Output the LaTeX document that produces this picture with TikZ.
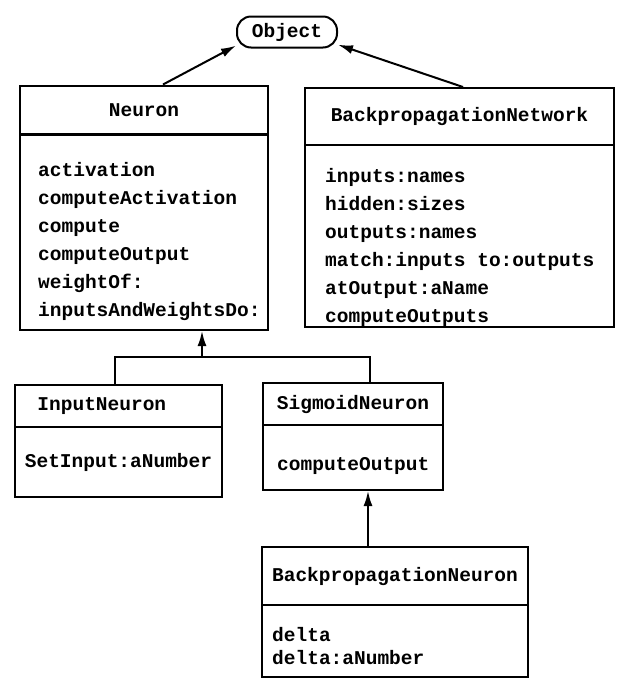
\documentclass[tikz,border=0pt]{standalone}
\usepackage{fontspec}
\usetikzlibrary{shapes,arrows.meta}
\newfontfamily\umlfont{Liberation Mono}
\newcommand\umltext{\umlfont\bfseries\fontsize{19.5}{28}\selectfont}
\newcommand\umltight{\umlfont\bfseries\fontsize{19.5}{23}\selectfont}

\tikzset{
    classhead/.style={rectangle, draw, line width=2pt, inner sep=0pt, font=\umltext},
    classbody/.style={rectangle, draw, line width=2pt, inner sep=0pt, font=\umltext},
    members/.style={anchor=north west, inner sep=0pt, align=left, font=\umltext},
    inherit/.style={-{Latex[length=15pt,width=9pt]}, line width=2pt},
}

\begin{document}
\begin{tikzpicture}[x=1pt, y=-1pt]
    \useasboundingbox (0,0) rectangle (618,681);

    \node (object) [rectangle, draw, rounded corners=14pt, line width=2pt, font=\umltext,
        minimum width=100, minimum height=31, inner sep=0pt] at (287,32) {Object};

    % Neuron
    \node (neuronhead) [classhead, minimum width=248, minimum height=49] at (144,110) {Neuron};
    \node (neuronbody) [classbody, minimum width=248, minimum height=196] at (144,232) {};
    \node (neuronlist) [members] at (38,162) {activation\\computeActivation\\compute\\computeOutput\\weightOf:\\inputsAndWeightsDo:};

    % BackpropagationNetwork
    \node (nethead) [classhead, minimum width=309, minimum height=57] at (459.5,116.5) {BackpropagationNetwork};
    \node (netbody) [classbody, minimum width=309, minimum height=182] at (459.5,236) {};
    \node (netlist) [members] at (325,168) {inputs:names\\hidden:sizes\\outputs:names\\match:inputs to:outputs\\atOutput:aName\\computeOutputs};

    % InputNeuron
    \node (inputhead) [classhead, minimum width=207, minimum height=42, text width=162, align=left] at (118.5,406) {InputNeuron};
    \node (inputbody) [classbody, minimum width=207, minimum height=70] at (118.5,462) {SetInput:aNumber};

    % SigmoidNeuron
    \node (sigmoidhead) [classhead, minimum width=180, minimum height=42] at (353,404) {SigmoidNeuron};
    \node (sigmoidbody) [classbody, minimum width=180, minimum height=65] at (353,457.5) {};
    \node (sigmoidlist) [members] at (277,457) {computeOutput};

    % BackpropagationNeuron
    \node (bpneuronhead) [classhead, minimum width=266, minimum height=58] at (395,576) {BackpropagationNeuron};
    \node (bpneuronbody) [classbody, minimum width=266, minimum height=72] at (395,641) {};
    \node (bpneuronlist) [members, font=\umltight] at (272,627) {delta\\delta:aNumber};

    % inheritance
    \draw [inherit] ([xshift=19]neuronhead.north) -- (object.-165);
    \draw [inherit] ([xshift=3.5]nethead.north) -- (object.-14);

    \coordinate (fork) at (202,357);
    \draw [inherit] (fork) -- (neuronbody.south -| fork);
    \draw [line width=2pt] ([xshift=-3.5]inputhead.north) |- (fork) -| ([xshift=17]sigmoidhead.north);

    \draw [inherit] ([xshift=-27]bpneuronhead.north) -- ([xshift=-27]bpneuronhead.north |- sigmoidbody.south);
\end{tikzpicture}
\end{document}
